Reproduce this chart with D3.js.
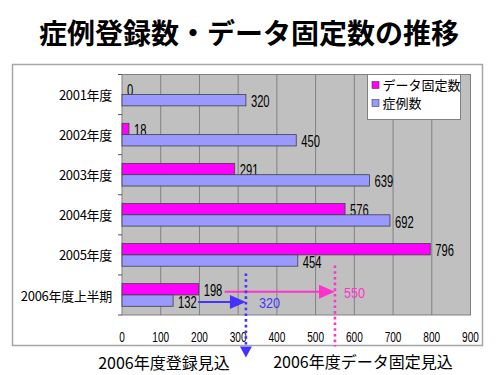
<!DOCTYPE html>
<html>
<head>
<meta charset="utf-8">
<script src="https://cdn.jsdelivr.net/npm/d3@7"></script>
<style>
  body { margin: 0; background: #fff; }
  text { font-family: "Noto Sans CJK JP", sans-serif; fill: #000; }
  .num { font-family: "Liberation Sans", Arial, sans-serif; }
</style>
</head>
<body>
<div class="chart"></div>
<script>
// data
var categories = ["2001年度", "2002年度", "2003年度", "2004年度", "2005年度", "2006年度上半期"];
var fixedCounts = [0, 18, 291, 576, 796, 198];   // データ固定数
var caseCounts = [320, 450, 639, 692, 454, 132]; // 症例数
var xTicks = [0, 100, 200, 300, 400, 500, 600, 700, 800, 900];
var seriesNames = ["データ固定数", "症例数"];
var regForecast = 320;   // 2006年度登録見込
var fixForecast = 550;   // 2006年度データ固定見込

var svgWidth = 500, svgHeight = 375;
var margin = { top: 74.5, right: 29.5, bottom: 60, left: 122 };
var width = svgWidth - margin.left - margin.right;
var height = svgHeight - margin.top - margin.bottom;

var svg = d3.select(".chart")
  .append("svg")
  .attr("width", svgWidth)
  .attr("height", svgHeight);

// narrow numbers, like the condensed digits in the original
function narrowText(sel, x, y, sx) {
  return sel.append("text")
    .attr("class", "num")
    .attr("transform", `translate(${x},${y}) scale(${sx},1)`)
    .attr("dy", "0.35em");
}

// title
svg.append("text")
  .attr("x", 249)
  .attr("y", 44)
  .attr("text-anchor", "middle")
  .style("font-size", "28px")
  .style("font-weight", "bold")
  .text("症例登録数・データ固定数の推移");

// outer frame
svg.append("rect")
  .attr("x", 12.5).attr("y", 64.5)
  .attr("width", 470).attr("height", 281)
  .attr("fill", "#fff")
  .attr("stroke", "#a6a6a6")
  .attr("stroke-width", 1.5);

var chartGroup = svg.append("g")
  .attr("transform", `translate(${margin.left}, ${margin.top})`);

var xScale = d3.scaleLinear().domain([0, 900]).range([0, width]);
var yScale = d3.scaleBand().domain(categories).range([0, height]);
var subScale = d3.scaleBand().domain(seriesNames)
  .range([0, yScale.bandwidth()])
  .paddingOuter(0.77);

// plot background
chartGroup.append("rect")
  .attr("width", width).attr("height", height)
  .attr("fill", "#c0c0c0");

// vertical gridlines
chartGroup.selectAll(".grid")
  .data(xTicks.slice(1))
  .enter()
  .append("line")
  .attr("x1", d => xScale(d)).attr("x2", d => xScale(d))
  .attr("y1", 0).attr("y2", height)
  .attr("stroke", "#808080")
  .attr("stroke-width", 1);

chartGroup.append("rect")
  .attr("width", width).attr("height", height)
  .attr("fill", "none")
  .attr("stroke", "#808080");

// left axis: ticks at category boundaries
var bounds = categories.map(c => yScale(c)).concat([height]);
chartGroup.selectAll(".ytick")
  .data(bounds)
  .enter()
  .append("line")
  .attr("x1", -4).attr("x2", 0)
  .attr("y1", d => d).attr("y2", d => d)
  .attr("stroke", "#555");

chartGroup.selectAll(".ylabel")
  .data(categories)
  .enter()
  .append("text")
  .attr("x", -10)
  .attr("y", d => yScale(d) + yScale.bandwidth() / 2 + 1)
  .attr("dy", "0.35em")
  .attr("text-anchor", "end")
  .style("font-size", "13px")
  .style("letter-spacing", "-0.3px")
  .text(d => d);

// x tick labels
xTicks.forEach(function (t) {
  narrowText(chartGroup, xScale(t), height + 22, 0.72)
    .attr("text-anchor", "middle")
    .style("font-size", "14px")
    .text(t);
});

var rows = categories.map((c, i) => ({ cat: c, fixed: fixedCounts[i], cases: caseCounts[i] }));

// bars
var barColors = { "データ固定数": "#ff00ff", "症例数": "#9999ff" };
var barKeys = { "データ固定数": "fixed", "症例数": "cases" };

seriesNames.forEach(function (name) {
  var key = barKeys[name];
  chartGroup.selectAll(".bar-" + key)
    .data(rows)
    .enter()
    .append("rect")
    .attr("x", 0)
    .attr("y", d => yScale(d.cat) + subScale(name))
    .attr("width", d => xScale(d[key]))
    .attr("height", subScale.bandwidth())
    .attr("fill", barColors[name])
    .attr("stroke", "#404040")
    .attr("stroke-width", 0.8);

  rows.forEach(function (d) {
    narrowText(chartGroup, xScale(d[key]) + 5,
      yScale(d.cat) + subScale(name) + subScale.bandwidth() / 2 + 1.5, 0.7)
      .style("font-size", "16px")
      .text(d[key]);
  });
});

// forecast annotations for 2006
var last = rows[rows.length - 1];
var yFix = yScale(last.cat) + subScale("データ固定数") + subScale.bandwidth() / 2 + 2.5;
var yReg = yScale(last.cat) + subScale("症例数") + subScale.bandwidth() / 2 + 1.5;
var blue = "#4433ff", pink = "#ff33cc";

function arrow(x0, x1, y, color) {
  chartGroup.append("line")
    .attr("x1", x0).attr("x2", x1 - 14)
    .attr("y1", y).attr("y2", y)
    .attr("stroke", color).attr("stroke-width", 2);
  chartGroup.append("path")
    .attr("d", `M${x1},${y} L${x1 - 16},${y - 7} L${x1 - 16},${y + 7} Z`)
    .attr("fill", color);
}

arrow(xScale(last.fixed) + 26, xScale(fixForecast), yFix, pink);
arrow(xScale(last.cases) + 25, xScale(regForecast), yReg, blue);

narrowText(chartGroup, xScale(fixForecast) + 9, yFix + 1, 0.9)
  .style("font-size", "14px")
  .style("fill", pink)
  .text(fixForecast);

narrowText(chartGroup, xScale(regForecast) + 13, yReg + 1, 0.9)
  .style("font-size", "14px")
  .style("fill", blue)
  .text(regForecast);

// dotted verticals
chartGroup.append("line")
  .attr("x1", xScale(fixForecast)).attr("x2", xScale(fixForecast))
  .attr("y1", 191).attr("y2", 272)
  .attr("stroke", pink)
  .attr("stroke-width", 2.6)
  .attr("stroke-dasharray", "2.6,3.1");

chartGroup.append("line")
  .attr("x1", xScale(regForecast)).attr("x2", xScale(regForecast))
  .attr("y1", 199).attr("y2", 273)
  .attr("stroke", blue)
  .attr("stroke-width", 2.6)
  .attr("stroke-dasharray", "2.6,3.1");

var ax = xScale(regForecast);
chartGroup.append("path")
  .attr("d", `M${ax - 6},272 L${ax + 6},272 L${ax},283 Z`)
  .attr("fill", blue);

// bottom captions
svg.append("text")
  .attr("x", 164).attr("y", 363)
  .attr("dy", "0.35em")
  .attr("text-anchor", "middle")
  .style("font-size", "16px")
  .text("2006年度登録見込");

svg.append("text")
  .attr("x", 363).attr("y", 362)
  .attr("dy", "0.35em")
  .attr("text-anchor", "middle")
  .style("font-size", "16px")
  .text("2006年度データ固定見込");

// legend
var legend = svg.append("g").attr("transform", "translate(367.5, 74.5)");
legend.append("rect")
  .attr("width", 93).attr("height", 45)
  .attr("fill", "#fff")
  .attr("stroke", "#808080");

legend.selectAll(".key")
  .data(seriesNames)
  .enter()
  .append("rect")
  .attr("x", 4.5)
  .attr("y", (d, i) => 7 + i * 18)
  .attr("width", 7).attr("height", 7)
  .attr("fill", d => barColors[d])
  .attr("stroke", "#404040")
  .attr("stroke-width", 0.6);

legend.selectAll(".keytext")
  .data(seriesNames)
  .enter()
  .append("text")
  .attr("x", 15)
  .attr("y", (d, i) => 11 + i * 18)
  .attr("dy", "0.35em")
  .style("font-size", "13px")
  .text(d => d);
</script>
</body>
</html>
